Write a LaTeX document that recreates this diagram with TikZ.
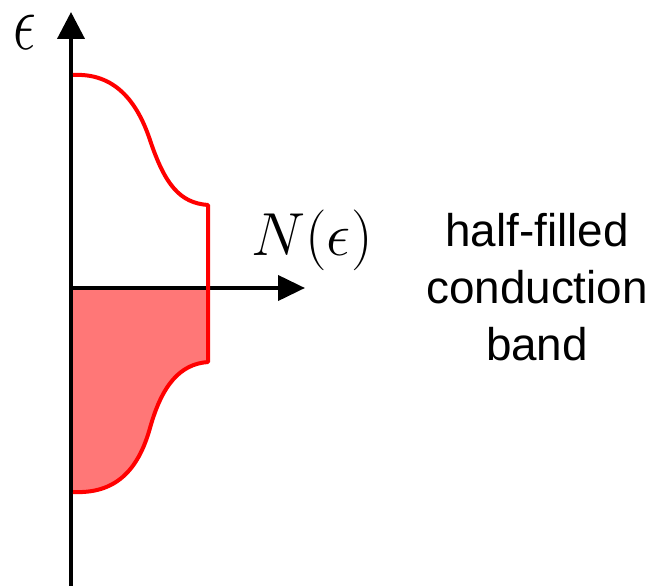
\RequirePackage{fix-cm}
\documentclass[tikz,border=0pt]{standalone}
\usepackage{fontspec}
\newfontfamily\arialf{Liberation Sans}
\usetikzlibrary{arrows.meta}
\definecolor{bandfill}{RGB}{255,119,119}
\definecolor{bandred}{RGB}{255,0,0}
\begin{document}
\begin{tikzpicture}[x=1bp,y=-1bp,
  axis/.style={line width=4bp,black},
  dos/.style={line width=4bp,bandred,line join=round},
  mathlabel/.style={inner sep=0pt,font=\fontsize{61}{61}\selectfont},
  caption/.style={inner sep=0pt,align=center,font=\arialf\fontsize{46}{57}\selectfont}]
\useasboundingbox (0,0) rectangle (654,586);
% coordinates
\coordinate (ybot) at (71,586);
\coordinate (ytop) at (71,12);
\coordinate (o) at (71,288);
\coordinate (xend) at (305,288);
\coordinate (fx) at (208,288);
% filled lower half
\fill[bandfill] (o) -- (fx) -- (208,362) .. controls (180,364) and (162,385) .. (150,428)
  .. controls (138,471) and (115,494) .. (73,492) -- (71,492) -- cycle;
% axes
\draw[axis,-{Triangle[length=27bp,width=27bp]}] (ybot) -- (ytop);
\draw[axis,-{Triangle[length=27bp,width=25bp]}] (o) -- (xend);
% density of states
\draw[dos] (73,75) .. controls (110,73) and (135,95) .. (150,140)
  .. controls (165,185) and (180,203) .. (208,205) -- (208,362)
  .. controls (180,364) and (162,385) .. (150,428)
  .. controls (138,471) and (115,494) .. (73,492);
% labels
\node[inner sep=0pt,anchor=base] (eps) at (25,50) {\scalebox{0.72}[1]{\fontsize{80}{80}\selectfont$\epsilon$}};
\node[mathlabel,anchor=base] (N) at (312,255) {$N(\epsilon)$};
\node[caption,anchor=base] (cap) at (537,360) {half-filled\\conduction\\band};
\end{tikzpicture}
\end{document}
